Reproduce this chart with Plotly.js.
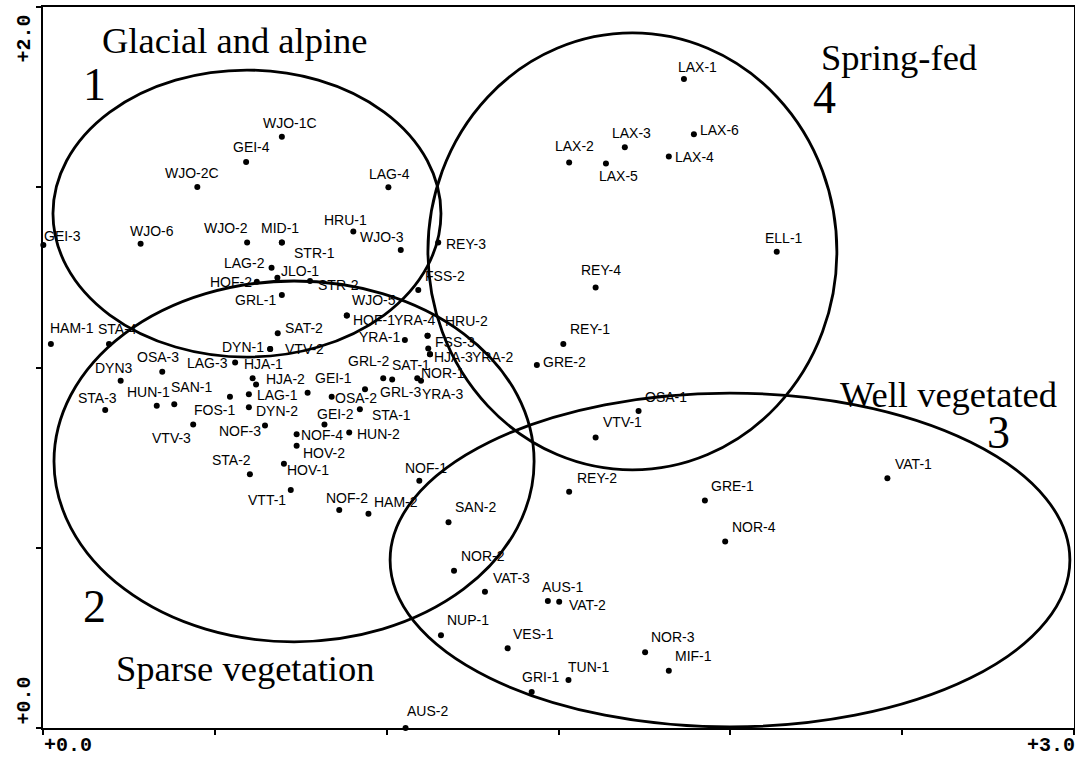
<!DOCTYPE html>
<html>
<head>
<meta charset="utf-8">
<script src="https://cdn.plot.ly/plotly-3.0.1.min.js"></script>
<style>
  html, body { margin: 0; padding: 0; background: #fff; }
  #chart { width: 1075px; height: 757px; }
</style>
</head>
<body>
<div id="chart"></div>
<script>
// ---- sample scores (axis 1, axis 2) ----
const sampleNames = [
  "GEI-3","WJO-6","WJO-2","MID-1","HRU-1","WJO-3","WJO-1C","GEI-4","WJO-2C","LAG-4",
  "STR-1","LAG-2","JLO-1","HOF-2","STR-2","GRL-1","FSS-2","WJO-5","HOF-1","YRA-4",
  "HRU-2","YRA-1","FSS-3","HJA-3","YRA-2","GRL-2","SAT-1","NOR-1","YRA-3","GRL-3",
  "OSA-2","STA-1","HUN-2","GEI-2","GEI-1","NOF-4","HOV-2","HOV-1","STA-2","VTT-1",
  "NOF-2","HAM-2","NOF-3","DYN-2","LAG-1","HJA-2","HJA-1","LAG-3","DYN-1","VTV-2",
  "SAT-2","FOS-1","VTV-3","SAN-1","HUN-1","STA-3","DYN3","OSA-3","HAM-1","STA-4",
  "REY-3","REY-4","REY-1","GRE-2","LAX-1","LAX-3","LAX-6","LAX-2","LAX-5","LAX-4",
  "ELL-1","OSA-1","VTV-1","NOF-1","REY-2","GRE-1","SAN-2","NOR-4","NOR-2","VAT-3",
  "AUS-1","VAT-2","NUP-1","VES-1","NOR-3","MIF-1","TUN-1","GRI-1","AUS-2","VAT-1"
];
const sampleX = [
  0.001,0.284,0.594,0.695,0.903,1.041,0.695,0.591,0.449,1.005,
  0.695,0.665,0.682,0.622,0.777,0.695,1.092,0.884,0.884,1.119,
  1.119,1.053,1.121,1.126,1.126,0.990,1.016,1.089,1.100,0.937,
  0.840,0.922,0.891,0.819,0.770,0.738,0.738,0.701,0.602,0.721,
  0.862,0.947,0.646,0.599,0.599,0.620,0.610,0.559,0.661,0.661,
  0.683,0.544,0.437,0.382,0.331,0.181,0.226,0.347,0.023,0.192,
  1.150,1.608,1.514,1.437,1.865,1.693,1.894,1.531,1.638,1.821,
  2.135,1.733,1.608,1.095,1.531,1.926,1.180,1.985,1.196,1.286,
  1.469,1.502,1.158,1.352,1.752,1.821,1.529,1.422,1.055,2.457
];
const sampleY = [
  1.340,1.343,1.347,1.347,1.377,1.326,1.640,1.570,1.501,1.500,
  1.347,1.277,1.249,1.238,1.240,1.201,1.215,1.144,1.144,1.088,
  1.088,1.076,1.053,1.037,1.037,0.970,0.967,0.970,0.963,0.940,
  0.919,0.884,0.820,0.842,0.930,0.815,0.783,0.733,0.704,0.660,
  0.605,0.594,0.839,0.890,0.926,0.953,0.970,1.014,1.051,1.051,
  1.095,0.919,0.842,0.898,0.894,0.882,0.963,0.988,1.065,1.065,
  1.347,1.222,1.065,1.007,1.800,1.611,1.647,1.569,1.566,1.585,
  1.321,0.879,0.806,0.686,0.655,0.631,0.571,0.517,0.436,0.378,
  0.352,0.350,0.257,0.221,0.210,0.159,0.133,0.100,0.000,0.693
];

// ---- group envelopes (axis units) ----
const groupNames = ["Glacial and alpine", "Sparse vegetation", "Well vegetated", "Spring-fed"];
const groupNumbers = ["1", "2", "3", "4"];
const groupX0 = [0.029, 0.032, 1.010, 1.120];
const groupX1 = [1.158, 1.429, 2.988, 2.310];
const groupY0 = [1.029, 0.239, 0.003, 0.716];
const groupY1 = [1.825, 1.240, 0.929, 1.928];

// ---- axis end labels ----
const xTickLabels = ["+0.0", "+3.0"];
const yTickLabels = ["+0.0", "+2.0"];

// ---- label placement (pixel offsets from each point: right, down) ----
const labelDx = [
  19,11,-21,-2,-8,-19,8,5,-5,1,
  33,-27,23,-26,28,-26,27,27,27,-13,
  39,-25,27,24,63,-15,19,26,21,35,
  24,32,29,11,26,25,27,24,-18,-24,
  8,28,-25,28,29,29,11,-28,-27,34,
  26,-15,-22,17,-8,-8,-7,-4,21,9,
  28,5,27,28,14,7,26,5,13,26,
  7,27,27,7,28,28,27,29,29,27,
  15,28,27,26,28,25,20,9,22,26
];
const labelDy = [
  -9,-13,-14,-14,-12,-13,-14,-15,-14,-13,
  11,-5,-7,0,4,5,-14,-16,4,-16,
  -15,-3,-6,3,3,-17,-14,-5,13,3,
  1,6,2,-10,-15,1,7,6,-14,10,
  -12,-12,5,4,1,-5,-14,1,-2,0,
  -5,13,14,-17,-14,-12,-13,-15,-16,-15,
  2,-17,-15,-3,-12,-14,-4,-16,13,0,
  -14,-14,-15,-13,-14,-15,-15,-15,-15,-14,
  -14,3,-15,-14,-15,-15,-13,-15,-17,-14
];

// group text placement (axis units)
const groupNameX = [0.559, 0.588, 2.636, 2.492];
const groupNameY = [1.906, 0.166, 0.924, 1.859];
const groupNumX  = [0.150, 0.150, 2.779, 2.275];
const groupNumY  = [1.784, 0.337, 0.819, 1.749];

const sans = "Liberation Sans, Arial, sans-serif";
const serif = "Liberation Serif, Times New Roman, serif";
const mono = "Liberation Mono, Courier New, monospace";

const points = {
  type: "scatter",
  mode: "markers",
  x: sampleX,
  y: sampleY,
  marker: { color: "#000", size: 6 },
  cliponaxis: false,
  hoverinfo: "skip"
};

const annotations = [];
sampleNames.forEach((n, i) => {
  annotations.push({
    x: sampleX[i], y: sampleY[i], xref: "x", yref: "y",
    text: n, showarrow: false,
    xanchor: "center", yanchor: "middle",
    xshift: labelDx[i], yshift: -labelDy[i],
    font: { family: sans, size: 14, color: "#000" }
  });
});
groupNames.forEach((g, i) => {
  annotations.push({
    x: groupNameX[i], y: groupNameY[i], xref: "x", yref: "y",
    text: g, showarrow: false, xanchor: "center", yanchor: "middle",
    font: { family: serif, size: 36.5, color: "#000" }
  });
  annotations.push({
    x: groupNumX[i], y: groupNumY[i], xref: "x", yref: "y",
    text: groupNumbers[i], showarrow: false, xanchor: "center", yanchor: "middle",
    font: { family: serif, size: 46, color: "#000" }
  });
});
// axis end labels
const tickFont = { family: mono, size: 20, color: "#000" };
annotations.push({ x: 0, y: 0, xref: "x", yref: "paper", text: "<b>" + xTickLabels[0] + "</b>",
  showarrow: false, xanchor: "left", yanchor: "top", xshift: 0, yshift: -5, borderpad: 0,
  font: tickFont });
annotations.push({ x: 3, y: 0, xref: "x", yref: "paper", text: "<b>" + xTickLabels[1] + "</b>",
  showarrow: false, xanchor: "right", yanchor: "top", xshift: 2, yshift: -5, borderpad: 0,
  font: tickFont });
annotations.push({ x: 0, y: 0, xref: "paper", yref: "paper", text: "<b>" + yTickLabels[0] + "</b>",
  showarrow: false, xanchor: "right", yanchor: "bottom", xshift: -6, yshift: 1, textangle: -90,
  font: tickFont });
annotations.push({ x: 0, y: 1, xref: "paper", yref: "paper", text: "<b>" + yTickLabels[1] + "</b>",
  showarrow: false, xanchor: "right", yanchor: "top", xshift: -6, yshift: -6, textangle: -90,
  font: tickFont });

const shapes = groupNames.map((g, i) => ({
  type: "circle", xref: "x", yref: "y",
  x0: groupX0[i], x1: groupX1[i], y0: groupY0[i], y1: groupY1[i],
  line: { color: "#000", width: 2.8 }, layer: "above"
}));

const layout = {
  width: 1075, height: 757,
  margin: { l: 43, r: 1, t: 7, b: 29, pad: 0 },
  paper_bgcolor: "#fff", plot_bgcolor: "#fff",
  showlegend: false,
  xaxis: {
    range: [0, 3], showgrid: false, zeroline: false,
    showline: true, linecolor: "#000", linewidth: 2, mirror: true,
    ticks: "outside", ticklen: 5, tickwidth: 2, tickcolor: "#000",
    tickmode: "linear", tick0: 0, dtick: 0.5, showticklabels: false
  },
  yaxis: {
    range: [0, 2], showgrid: false, zeroline: false,
    showline: true, linecolor: "#000", linewidth: 2, mirror: true,
    ticks: "outside", ticklen: 5, tickwidth: 2, tickcolor: "#000",
    tickmode: "linear", tick0: 0, dtick: 0.5, showticklabels: false
  },
  shapes: shapes,
  annotations: annotations,
  hovermode: false
};

Plotly.newPlot("chart", [points], layout, { displayModeBar: false, staticPlot: true });
</script>
</body>
</html>
